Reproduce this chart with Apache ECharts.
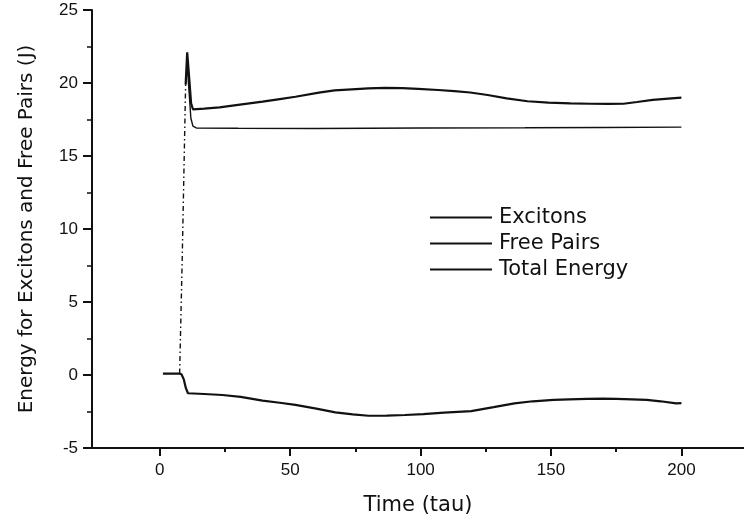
<!DOCTYPE html>
<html>
<head>
<meta charset="utf-8">
<script src="https://cdn.jsdelivr.net/npm/echarts@6/dist/echarts.min.js"></script>
<style>html,body{margin:0;padding:0;background:#fff;}#c{width:744px;height:525px;}</style>
</head>
<body>
<div id="c"></div>
<script>
// ---- data (time in tau, energy in J) ----
const excitons = [[9.9,19.9],[10.5,22.1],[11.2,20.5],[12.0,18.6],[12.7,18.2],[17,18.25],[22.9,18.33],[30,18.5],[39.4,18.72],[46,18.9],[52,19.06],[61,19.34],[67,19.5],[73.6,19.57],[80,19.63],[86.3,19.66],[93,19.65],[99,19.6],[106.7,19.52],[113,19.45],[119,19.35],[125.7,19.18],[133,18.95],[141,18.75],[149,18.65],[157.5,18.6],[165,18.58],[172,18.57],[177.8,18.58],[183,18.7],[189,18.84],[195,18.93],[200,19.0]];
const freePairs = [[1.2,0.1],[7.5,0.1],[8.3,0.05],[9.2,-0.3],[10,-0.9],[10.8,-1.25],[17,-1.3],[24,-1.37],[31,-1.5],[39.4,-1.76],[46,-1.9],[52,-2.05],[60,-2.3],[67.3,-2.56],[74,-2.7],[80,-2.79],[87,-2.78],[94,-2.74],[101,-2.68],[109,-2.58],[119.4,-2.47],[128,-2.2],[136,-1.94],[143,-1.8],[151,-1.71],[157,-1.67],[163.8,-1.64],[170,-1.62],[175,-1.64],[181,-1.67],[186.7,-1.71],[192,-1.8],[198,-1.94],[200,-1.92]];
const totalEnergy = [[9.9,19.9],[10.5,21.2],[11.3,19.2],[11.9,17.6],[12.7,17.05],[14,16.92],[30,16.9],[60,16.88],[100,16.92],[140,16.93],[170,16.95],[200,16.98]];
const riseSegment = [[7.6,0.1],[8.6,8.0],[9.9,19.9]];
const xMajorTicks = [0,50,100,150,200];
const xMinorTicks = [25,75,125,175];
const seriesNames = ['Excitons','Free Pairs','Total Energy'];
const xTitle = 'Time (tau)';
const yTitle = 'Energy for Excitons and Free Pairs (J)';

const ink = '#111';
const chart = echarts.init(document.getElementById('c'), null, {renderer:'canvas'});
const baseX = {
  type:'value', min:-26, max:224, position:'bottom',
  splitLine:{show:false}
};
chart.setOption({
  animation:false,
  backgroundColor:'#fff',
  grid:{left:92, right:-4, top:10, bottom:77, containLabel:false},
  legend:{
    data:seriesNames, orient:'vertical', left:425, top:202,
    itemWidth:62, itemHeight:2, itemGap:5,
    textStyle:{fontFamily:'DejaVu Sans', fontSize:21, color:ink, lineHeight:21, padding:[0,0,0,2]},
    icon:'rect'
  },
  xAxis:[
    Object.assign({}, baseX, {
      name:xTitle, nameLocation:'middle', nameGap:47,
      nameTextStyle:{fontFamily:'DejaVu Sans', fontSize:21, color:ink},
      axisLine:{show:true, onZero:false, lineStyle:{color:ink, width:2}},
      axisTick:{show:true, customValues:xMajorTicks, length:8, lineStyle:{color:ink, width:2}},
      axisLabel:{customValues:xMajorTicks, margin:14, fontFamily:'Liberation Sans', fontSize:17, color:ink}
    }),
    Object.assign({}, baseX, {
      axisLine:{show:false, onZero:false},
      axisTick:{show:true, customValues:xMinorTicks, length:4, lineStyle:{color:ink, width:2}},
      axisLabel:{show:false}
    })
  ],
  yAxis:{
    type:'value', min:-5, max:25, interval:5,
    name:yTitle, nameLocation:'middle', nameGap:55,
    nameTextStyle:{fontFamily:'DejaVu Sans', fontSize:20, color:ink},
    axisLine:{show:true, onZero:false, lineStyle:{color:ink, width:2}},
    axisTick:{show:true, length:9, lineStyle:{color:ink, width:2}},
    minorTick:{show:true, splitNumber:2, length:5, lineStyle:{color:ink, width:1.5}},
    axisLabel:{margin:14, fontFamily:'Liberation Sans', fontSize:17, color:ink},
    splitLine:{show:false}
  },
  series:[
    {name:seriesNames[0], type:'line', data:excitons, symbol:'none', smooth:false,
     lineStyle:{color:ink, width:2.2}, itemStyle:{color:ink}},
    {name:seriesNames[1], type:'line', data:freePairs, symbol:'none',
     lineStyle:{color:ink, width:2.2}, itemStyle:{color:ink}},
    {name:seriesNames[2], type:'line', data:totalEnergy, symbol:'none',
     lineStyle:{color:ink, width:1.4}, itemStyle:{color:ink}},
    {name:'rise', type:'line', data:riseSegment, symbol:'none',
     lineStyle:{color:ink, width:1.4, type:[5,3,1.5,3]}, itemStyle:{color:ink}}
  ]
});
</script>
</body>
</html>
